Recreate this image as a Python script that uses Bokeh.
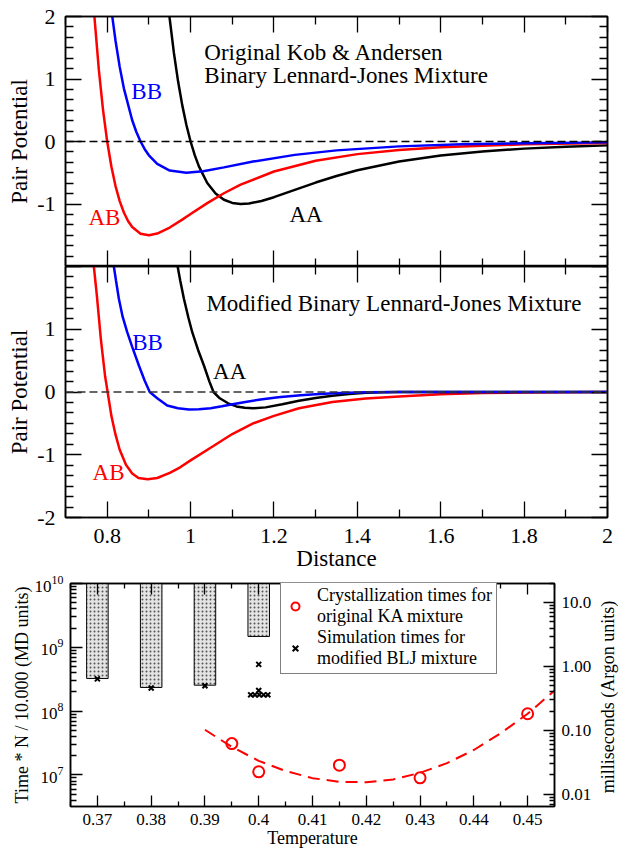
import math
from bokeh.plotting import figure
from bokeh.models import (Range1d, LinearAxis, LogAxis, FixedTicker, Span, Label,
                          Legend, LegendItem, LogScale)
from bokeh.layouts import column, row
from bokeh.embed import file_html
from bokeh.resources import INLINE

SERIF = "Liberation Serif"

# ---------------- data: original Kob & Andersen pair potentials ----------------
r_AA = [0.948, 0.95, 0.96, 0.97, 0.98, 0.99, 1.0, 1.01, 1.02, 1.04, 1.06, 1.08, 1.1, 1.12,
        1.14, 1.17, 1.2, 1.25, 1.3, 1.35, 1.4, 1.5, 1.6, 1.7, 1.8, 1.9, 2.0]
v_AA = [2.081, 1.961, 1.418, 0.963, 0.582, 0.264, 0.0, -0.218, -0.398, -0.663, -0.832, -0.932,
        -0.983, -1.0, -0.992, -0.951, -0.891, -0.774, -0.657, -0.552, -0.461, -0.320, -0.224,
        -0.159, -0.114, -0.083, -0.062]
r_AB = [0.768, 0.77, 0.78, 0.79, 0.8, 0.81, 0.82, 0.83, 0.84, 0.85, 0.86, 0.88, 0.9, 0.92, 0.95,
        0.98, 1.0, 1.04, 1.08, 1.12, 1.2, 1.3, 1.4, 1.5, 1.6, 1.8, 2.0]
v_AB = [2.127, 1.945, 1.146, 0.507, 0.0, -0.400, -0.713, -0.953, -1.136, -1.272, -1.369, -1.475,
        -1.500, -1.473, -1.377, -1.250, -1.161, -0.986, -0.828, -0.691, -0.480, -0.308, -0.202,
        -0.135, -0.092, -0.046, -0.025]
r_BB = [0.81, 0.812, 0.82, 0.83, 0.84, 0.86, 0.87, 0.88, 0.89, 0.9, 0.92, 0.95, 0.99, 1.03, 1.08,
        1.15, 1.25, 1.35, 1.5, 1.65, 1.8, 2.0]
v_BB = [2.119, 2.009, 1.612, 1.194, 0.851, 0.340, 0.152, 0.0, -0.123, -0.221, -0.359, -0.465,
        -0.500, -0.475, -0.414, -0.321, -0.214, -0.142, -0.078, -0.045, -0.027, -0.014]

# ---------------- data: modified binary Lennard-Jones potentials ----------------
r_AA_mod = [0.969, 0.975, 0.984, 0.995, 1.004, 1.018, 1.032, 1.045, 1.055, 1.07, 1.09, 1.11, 1.13,
            1.15, 1.18, 1.22, 1.26, 1.3, 1.34, 1.38, 1.42, 1.46, 1.5, 2.0]
v_AA_mod = [2.0, 1.78, 1.485, 1.18, 0.953, 0.67, 0.422, 0.17, 0.0, -0.10, -0.18, -0.23, -0.252,
            -0.258, -0.245, -0.195, -0.14, -0.097, -0.06, -0.032, -0.012, -0.003, 0.0, 0.0]
r_AB_mod = [0.768, 0.775, 0.785, 0.795, 0.801, 0.81, 0.82, 0.83, 0.845, 0.86, 0.875, 0.897, 0.92,
            0.95, 0.975, 1.0, 1.05, 1.1, 1.15, 1.2, 1.26, 1.34, 1.42, 1.5, 1.6, 1.7, 1.8, 1.9, 2.0]
v_AB_mod = [2.0, 1.55, 0.83, 0.25, 0.0, -0.38, -0.68, -0.92, -1.16, -1.30, -1.37, -1.39, -1.37,
            -1.29, -1.20, -1.09, -0.88, -0.67, -0.50, -0.38, -0.26, -0.16, -0.105, -0.07, -0.035,
            -0.016, -0.007, -0.002, 0.0]
r_BB_mod = [0.816, 0.821, 0.828, 0.837, 0.848, 0.86, 0.876, 0.89, 0.902, 0.92, 0.944, 0.97, 0.996,
            1.02, 1.048, 1.075, 1.104, 1.135, 1.168, 1.21, 1.264, 1.3, 1.343, 1.42, 1.5, 2.0]
v_BB_mod = [2.0, 1.78, 1.485, 1.2, 0.953, 0.72, 0.422, 0.18, 0.0, -0.10, -0.215, -0.26, -0.279,
            -0.275, -0.258, -0.228, -0.192, -0.155, -0.12, -0.082, -0.05, -0.034, -0.02, -0.005,
            0.0, 0.0]

x_ticks = [0.8, 1.0, 1.2, 1.4, 1.6, 1.8, 2.0]
x_tick_labels = ["0.8", "1", "1.2", "1.4", "1.6", "1.8", "2"]
x_minor = [0.7, 0.9, 1.1, 1.3, 1.5, 1.7, 1.9]
y_ticks = [-2, -1, 0, 1, 2]
y_labels_top = ["", "-1", "0", "1", "2"]
y_labels_mid = ["-2", "-1", "0", "1", ""]
y_minor = [k / 6 for k in range(-12, 13) if k % 6 != 0]

# ---------------- data: crystallization / simulation times ----------------
bar_T = [0.37, 0.38, 0.39, 0.40]
bar_bottom = [3.25e8, 2.35e8, 2.55e8, 1.48e9]
bar_top = [1e10, 1e10, 1e10, 1e10]

sim_T = [0.37, 0.38, 0.39, 0.40, 0.40, 0.3985, 0.3993, 0.4001, 0.4009, 0.4017]
sim_t = [3.2e8, 2.3e8, 2.5e8, 5.4e8, 2.1e8, 1.8e8, 1.8e8, 1.8e8, 1.8e8, 1.8e8]

cr_T = [0.395, 0.40, 0.415, 0.43, 0.45]
cr_t = [3.1e7, 1.12e7, 1.42e7, 9.0e6, 9.1e7]

fit_T = [0.39, 0.395, 0.40, 0.405, 0.41, 0.415, 0.42, 0.425, 0.43, 0.435, 0.44, 0.445, 0.45, 0.455]
fit_t = [5.1e7, 2.75e7, 1.66e7, 1.15e7, 8.9e6, 7.8e6, 7.7e6, 8.5e6, 1.08e7, 1.53e7, 2.46e7,
         4.5e7, 9.1e7, 2.1e8]

T_ticks = [0.37, 0.38, 0.39, 0.40, 0.41, 0.42, 0.43, 0.44, 0.45]
T_tick_labels = ["0.37", "0.38", "0.39", "0.4", "0.41", "0.42", "0.43", "0.44", "0.45"]
T_minor = [round(0.365 + 0.01 * i, 3) for i in range(10)]
t_ticks = [1e7, 1e8, 1e9, 1e10]
t_minor = [m * 10 ** e for e in range(6, 10) for m in range(2, 10)]
ms_ticks = [0.01, 0.1, 1.0, 10.0]
ms_labels = ["0.01", "0.10", "1.00", "10.0"]
ms_minor = [m * 10.0 ** e for e in range(-3, 2) for m in range(2, 10)]
MS_PER_UNIT = 2.0e-9
T_RANGE = (0.365, 0.455)
t_RANGE = (3.2e6, 1e10)


def no_align(p):
    if "frame_align" in p.properties():
        p.frame_align = False


def style_axis(ax, size, maj, mnr, show=True, standoff=6):
    ax.axis_line_color = "black"
    ax.axis_line_width = 1.5
    ax.major_tick_line_color = "black"
    ax.minor_tick_line_color = "black"
    ax.major_tick_line_width = 1.3
    ax.minor_tick_line_width = 1.3
    ax.major_tick_in = maj
    ax.major_tick_out = 0
    ax.minor_tick_in = mnr
    ax.minor_tick_out = 0
    ax.major_label_text_font = SERIF
    ax.major_label_text_color = "black"
    ax.major_label_text_font_size = f"{size}px" if show else "0px"
    ax.major_label_standoff = standoff if show else 0
    ax.axis_label_text_font = SERIF
    ax.axis_label_text_font_style = "normal"
    ax.axis_label_text_color = "black"


def blank(ticks):
    return {t: "" for t in ticks}


def pot_panel(height, top_b, bot_b, ylabels, show_x):
    p = figure(width=620, height=height, x_range=Range1d(0.7, 2.0), y_range=Range1d(-2, 2),
               output_backend="svg", toolbar_location=None,
               min_border_left=65, min_border_right=13, min_border_top=top_b,
               min_border_bottom=bot_b)
    no_align(p)
    p.xgrid.visible = False
    p.ygrid.visible = False
    p.outline_line_color = "black"
    p.outline_line_width = 1.5
    p.background_fill_color = "white"
    p.border_fill_color = "white"

    xa = p.below[0]
    xa.ticker = FixedTicker(ticks=x_ticks, minor_ticks=x_minor)
    style_axis(xa, 22, 16, 8, show=show_x, standoff=11)
    if show_x:
        xa.major_label_overrides = dict(zip(x_ticks, x_tick_labels))
        xa.axis_label = "Distance"
        xa.axis_label_text_font_size = "23px"
        xa.axis_label_standoff = 0
    else:
        xa.major_label_overrides = blank(x_ticks)

    ya = p.left[0]
    ya.ticker = FixedTicker(ticks=y_ticks, minor_ticks=y_minor)
    style_axis(ya, 22, 16, 8, show=True, standoff=10)
    ya.major_label_overrides = dict(zip(y_ticks, ylabels))
    ya.axis_label = "Pair Potential"
    ya.axis_label_text_font_size = "23px"
    ya.axis_label_standoff = 2

    top = LinearAxis(ticker=FixedTicker(ticks=x_ticks, minor_ticks=x_minor))
    style_axis(top, 22, 16, 8, show=False)
    top.major_label_overrides = blank(x_ticks)
    p.add_layout(top, "above")

    right = LinearAxis(ticker=FixedTicker(ticks=y_ticks, minor_ticks=y_minor))
    style_axis(right, 22, 16, 8, show=False)
    right.major_label_overrides = blank(y_ticks)
    p.add_layout(right, "right")
    return p


def lab(p, x, y, text, color="black"):
    p.add_layout(Label(x=x, y=y, text=text, text_font=SERIF, text_font_size="23px",
                       text_color=color, text_baseline="middle", text_align="left"))


# ---------------- panel 1 ----------------
p1 = pot_panel(266, 16, 0, y_labels_top, False)
p1.line(r_AA, v_AA, line_color="black", line_width=2.5)
p1.line(r_AB, v_AB, line_color="#ff0000", line_width=2.5)
p1.line(r_BB, v_BB, line_color="#0000ff", line_width=2.5)
p1.add_layout(Span(location=0, dimension="width", line_color="black", line_dash="8 4",
                   line_width=1.3))
lab(p1, 1.033, 1.424, "Original Kob & Andersen")
lab(p1, 1.033, 1.056, "Binary Lennard-Jones Mixture")
lab(p1, 0.858, 0.805, "BB", "#0000ff")
lab(p1, 0.755, -1.211, "AB", "#ff0000")
lab(p1, 1.237, -1.168, "AA")

# ---------------- panel 2 ----------------
p2 = pot_panel(251 + 56, 0, 56, y_labels_mid, True)
p2.line(r_AB_mod, v_AB_mod, line_color="#ff0000", line_width=2.5)
p2.line(r_AA_mod, v_AA_mod, line_color="black", line_width=2.5)
p2.line(r_BB_mod, v_BB_mod, line_color="#0000ff", line_width=2.5)
p2.add_layout(Span(location=0, dimension="width", line_color="#333333", line_dash="8 4",
                   line_width=1.3))
lab(p2, 1.038, 1.415, "Modified Binary Lennard-Jones Mixture")
lab(p2, 0.86, 0.794, "BB", "#0000ff")
lab(p2, 1.054, 0.327, "AA")
lab(p2, 0.765, -1.278, "AB", "#ff0000")

# ---------------- panel 3 ----------------
H3 = 850 - 266 - 307
LABW = 24
TOP3, BOT3, LEFT3, RIGHT3 = 10, 40, 70, 42
W3 = 620 - LABW
FH3 = H3 - TOP3 - BOT3
p3 = figure(width=W3, height=H3, x_range=Range1d(*T_RANGE), y_range=Range1d(*t_RANGE),
            y_axis_type="log", output_backend="svg", toolbar_location=None,
            min_border_left=LEFT3, min_border_right=RIGHT3, min_border_top=TOP3,
            min_border_bottom=BOT3)
no_align(p3)
p3.xgrid.visible = False
p3.ygrid.visible = False
p3.outline_line_color = "black"
p3.outline_line_width = 1.5

bx = p3.below[0]
bx.ticker = FixedTicker(ticks=T_ticks, minor_ticks=T_minor)
style_axis(bx, 17, 11, 5, show=True, standoff=7)
bx.major_label_overrides = dict(zip(T_ticks, T_tick_labels))
bx.axis_label = "Temperature"
bx.axis_label_text_font_size = "18px"
bx.axis_label_standoff = 0

ly = p3.left[0]
ly.ticker = FixedTicker(ticks=t_ticks, minor_ticks=t_minor)
style_axis(ly, 17, 12, 6, show=True, standoff=7)
ly.axis_label = "Time * N / 10.000 (MD units)"
ly.axis_label_text_font_size = "18px"
ly.axis_label_standoff = 0

tx = LinearAxis(ticker=FixedTicker(ticks=T_ticks, minor_ticks=T_minor))
style_axis(tx, 17, 11, 5, show=False)
tx.major_label_overrides = blank(T_ticks)
p3.add_layout(tx, "above")

p3.extra_y_ranges = {"ms": Range1d(t_RANGE[0] * MS_PER_UNIT, t_RANGE[1] * MS_PER_UNIT)}
p3.extra_y_scales = {"ms": LogScale()}
ry = LogAxis(y_range_name="ms", ticker=FixedTicker(ticks=ms_ticks, minor_ticks=ms_minor))
style_axis(ry, 17, 11, 5, show=True, standoff=7)
ry.major_label_overrides = dict(zip(ms_ticks, ms_labels))
p3.add_layout(ry, "right")

p3.vbar(x=bar_T, width=0.004, top=bar_top, bottom=bar_bottom, fill_color="#e4e4e4",
        line_color="black", line_width=1, hatch_pattern=".", hatch_scale=4,
        hatch_color="#555555", hatch_weight=1)
p3.line(fit_T, fit_t, line_color="#ff0000", line_width=2, line_dash="12 7")
rc = p3.scatter(cr_T, cr_t, marker="circle", size=11, fill_color=None, line_color="#ff0000",
                line_width=2)
rx = p3.scatter(sim_T, sim_t, marker="x", size=7, line_color="black", line_width=2)

LEG_H = 95
legend = Legend(items=[LegendItem(label="Crystallization times for\noriginal KA mixture",
                                  renderers=[rc]),
                       LegendItem(label="Simulation times for\nmodified BLJ mixture",
                                  renderers=[rx])],
                location=(210, FH3 - LEG_H), padding=4, spacing=0, margin=0,
                glyph_width=20, glyph_height=20, label_standoff=12,
                label_text_font=SERIF, label_text_font_size="18px",
                label_text_line_height=0.8, label_text_color="black",
                border_line_color="black", border_line_width=1.5,
                background_fill_color="white", background_fill_alpha=1.0)
p3.add_layout(legend)

# narrow strip carrying the right-hand axis title (reads bottom-to-top)
pl = figure(width=LABW, height=H3, x_range=Range1d(0, LABW), y_range=Range1d(0, H3),
            output_backend="svg", toolbar_location=None, x_axis_location=None,
            y_axis_location=None, min_border=0, outline_line_color=None)
no_align(pl)
pl.xgrid.visible = False
pl.ygrid.visible = False
pl.add_layout(Label(x=11, y=BOT3 + FH3 / 2, text="milliseconds (Argon units)",
                    angle=math.pi / 2, angle_units="rad", text_font=SERIF,
                    text_font_size="18px", text_color="black", text_align="center",
                    text_baseline="middle"))

layout = column(p1, p2, row(p3, pl, spacing=0), spacing=0)
open("out.html", "w").write(file_html(layout, INLINE))
